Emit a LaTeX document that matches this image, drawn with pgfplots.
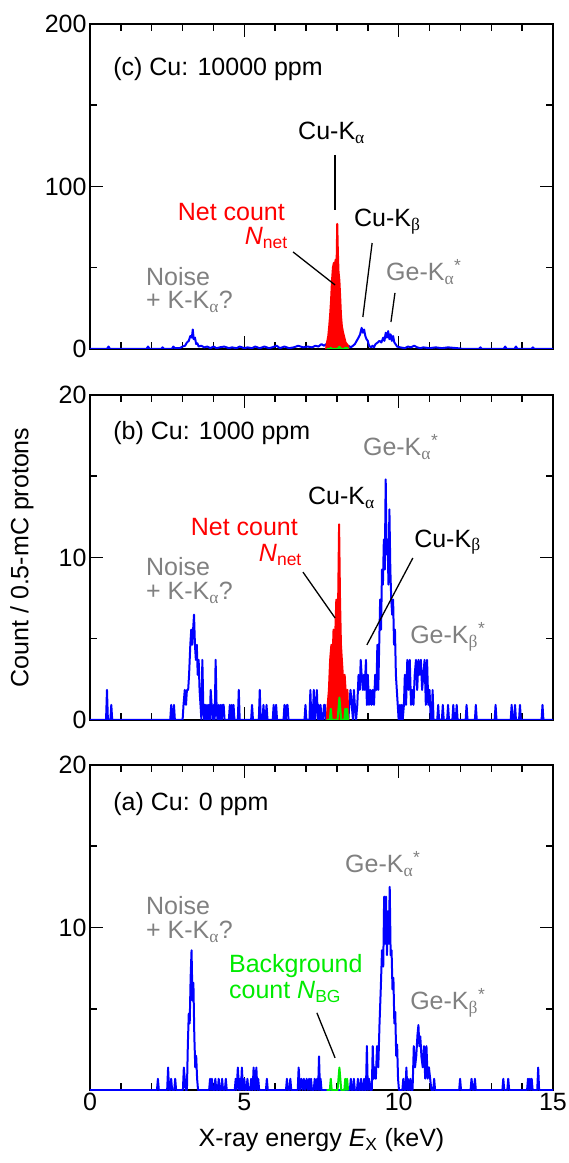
\documentclass[border=0pt]{standalone}
\usepackage{fontspec}
\setmainfont{Liberation Sans}
\newfontfamily\grk{Liberation Serif}
\usepackage{pgfplots}
\pgfplotsset{compat=1.18}
\definecolor{sblue}{RGB}{0,0,255}
\definecolor{sred}{RGB}{255,0,0}
\definecolor{sgreen}{RGB}{0,235,0}
\definecolor{lgray}{RGB}{128,128,128}
\newcommand{\al}{\textsubscript{\grk α}}
\newcommand{\be}{\textsubscript{\grk β}}
\newcommand{\fs}{\fontsize{25}{30}\selectfont}
\tikzset{ann/.style={line width=1.3pt, black}}
\pgfplotsset{spec/.style={width=463pt, height=325pt, scale only axis, anchor=south west,
  xmin=0, xmax=15, ymin=0,
  axis line style={line width=1.5pt},
  tick style={line width=1.5pt, black},
  major tick length=13pt, minor tick length=7pt, tick align=inside,
  xtick={0,5,10,15}, minor x tick num=4, minor y tick num=1,
  ticklabel style={font=\fs},
  /pgf/number format/assume math mode=true,
  label style={font=\fs}},
  bl/.style={color=sblue, line width=2pt, line join=round},
  rd/.style={fill=sred, draw=sred, line width=2pt, line join=round},
  gr/.style={color=sgreen, line width=2pt, line join=round}}

\pgfplotstableread{
x y
7.67 0
7.77 0
7.80 0.69
7.83 0
8.02 0
8.05 0.69
8.08 1.38
8.11 0.69
8.14 0
8.24 0
8.27 0.69
8.30 0
8.33 0.69
8.36 0
8.37 0
}\greendata

\pgfplotstableread{
x y
0 0
0.55 0
0.60 1.5
0.65 0
1.83 0
1.88 1.5
1.93 0
2.30 0
2.35 1
2.40 0
2.65 0
2.70 1.5
2.75 0.5
2.90 0.5
3.00 1.5
3.08 2
3.14 4
3.20 5
3.25 8
3.30 7
3.33 12
3.36 6
3.40 7
3.44 3
3.48 3.5
3.52 1.5
3.60 2
3.70 1
3.80 1.5
3.90 0.5
4.00 1.5
4.10 0.5
4.20 1
4.35 1.5
4.50 0.5
4.60 1
4.75 0.5
4.85 1.5
5.00 0.5
5.10 1
5.25 0.5
5.35 1.5
5.50 0.5
5.65 1.5
5.80 0.5
5.90 1
6.05 2
6.15 0.5
6.30 1.5
6.45 0.5
6.60 1
6.75 2
6.90 1
7.05 1.5
7.20 1
7.30 2
7.40 1.5
7.50 3
7.58 2
7.65 3
7.70 0
8.35 0
8.37 2
8.45 1
8.52 2
8.58 3
8.64 5
8.70 7
8.75 9
8.80 13
8.84 10
8.88 12
8.92 8
8.96 6
9.00 5
9.04 2
9.10 1
9.15 2
9.20 1
9.25 3
9.32 4
9.38 5
9.44 4
9.50 7
9.54 5
9.58 10
9.62 7
9.66 11
9.70 6
9.74 9
9.78 5
9.82 8
9.86 4
9.90 3
9.95 1.5
10.05 1
10.20 0.5
10.30 1.5
10.40 1
10.50 2
10.60 1
10.70 0.5
10.80 1
11.00 0.5
11.20 1
11.40 0.5
11.60 1
11.90 0.5
12.10 0
12.60 0
12.65 1
12.70 0
13.40 0
13.45 1.5
13.50 0
13.75 0
13.80 1.5
13.85 0
14.30 0
14.35 1
14.40 0
15 0
}\bluec

\pgfplotstableread{
x y
7.65 0
7.66 2
7.69 5
7.72 8
7.75 14
7.78 21
7.81 30
7.84 42
7.87 50
7.90 53
7.93 52
7.96 55
7.99 53
8.01 77
8.03 60
8.05 48
8.08 42
8.11 30
8.13 21
8.16 14
8.20 10
8.24 7
8.28 4
8.32 3
8.36 2
8.37 0
}\redc

\pgfplotstableread{
x y
0 0
0.52 0
0.55 1.85
0.58 0
0.66 0
0.69 0.93
0.72 0
2.60 0
2.63 0.93
2.66 0
2.69 0
2.72 0.93
2.75 0
3.00 0
3.03 0.93
3.07 1.85
3.11 0.93
3.14 1.85
3.18 1.85
3.21 2.78
3.25 4.63
3.28 5.56
3.31 4.63
3.34 5.56
3.37 6.48
3.40 4.63
3.43 3.70
3.46 4.63
3.49 2.78
3.52 3.70
3.55 1.85
3.58 0.93
3.61 0
3.64 3.70
3.67 0.93
3.70 0
3.73 0.93
3.76 0
3.79 0.93
3.82 0
3.85 0.93
3.88 0
3.91 1.85
3.94 0.93
3.97 0
4.01 0.93
4.04 0
4.07 3.70
4.10 0.93
4.13 0
4.17 0.93
4.20 0
4.24 0.93
4.27 0
4.30 0.93
4.33 0.93
4.36 0
4.50 0
4.53 0.93
4.56 0
4.59 0.93
4.62 0
4.65 0.93
4.68 0
4.79 0
4.82 1.85
4.85 0
5.22 0
5.25 0.93
5.28 0
5.47 0
5.50 1.85
5.53 0
5.59 0
5.62 0.93
5.65 0
5.69 0
5.72 0.93
5.75 0
5.92 0
5.95 0.93
5.98 0
6.00 0
6.03 0.93
6.06 0
6.27 0
6.30 0.93
6.34 0
6.38 0.93
6.40 0.93
6.43 0
6.95 0
6.98 0.93
7.01 0
7.11 0
7.14 1.85
7.17 0
7.20 0.93
7.22 0
7.25 1.85
7.28 0
7.32 0.93
7.35 1.85
7.38 0
7.40 0.93
7.43 0
7.47 0.93
7.50 0
7.55 0
7.58 0.93
7.61 0.93
7.64 0
8.37 0
8.40 0.93
8.44 1.85
8.48 0.93
8.52 0
8.55 1.85
8.58 0.93
8.62 0
8.66 0.93
8.70 2.78
8.74 1.85
8.77 3.70
8.80 2.78
8.84 1.85
8.87 2.78
8.90 1.85
8.94 3.70
8.97 0.93
9.00 2.78
9.04 0.93
9.08 1.85
9.12 0.93
9.16 1.85
9.20 0.93
9.24 2.78
9.28 1.85
9.31 4.63
9.34 1.85
9.37 4.63
9.40 7.41
9.43 5.56
9.46 9.26
9.49 8.33
9.52 11.11
9.55 9.26
9.58 14.81
9.61 10.19
9.64 11.11
9.67 8.33
9.70 12.96
9.73 9.26
9.76 7.41
9.79 6.48
9.82 7.41
9.85 4.63
9.88 5.56
9.91 2.78
9.94 1.85
9.97 0.93
10.00 0
10.04 0.93
10.07 0
10.10 0.93
10.13 0
10.17 0.93
10.20 2.78
10.24 0.93
10.28 3.70
10.32 1.85
10.36 3.70
10.40 0.93
10.44 1.85
10.48 0.93
10.52 2.78
10.56 3.70
10.60 1.85
10.64 3.70
10.68 2.78
10.72 3.70
10.76 1.85
10.80 2.78
10.84 3.70
10.88 0.93
10.92 3.70
10.96 0.93
11.00 1.85
11.04 0
11.07 0
11.10 1.85
11.13 0
11.25 0
11.28 0.93
11.31 0
11.40 0
11.43 0.93
11.46 0
11.57 0
11.60 0.93
11.63 0
11.74 0
11.77 0.93
11.80 0
11.85 0
11.88 0.93
11.91 0
12.17 0
12.20 0.93
12.23 0
12.47 0
12.50 0.93
12.53 0
13.11 0
13.14 0.93
13.17 0
13.63 0
13.66 0.93
13.69 0
13.74 0
13.77 0.93
13.80 0
13.90 0
13.93 0.93
13.96 0
14.63 0
14.66 0.93
14.69 0
15 0
}\blueb

\pgfplotstableread{
x y
7.67 0
7.70 0.93
7.74 1.85
7.78 3.70
7.82 4.63
7.86 3.70
7.89 5.56
7.92 4.63
7.95 5.56
7.98 7.41
8.01 6.48
8.04 7.41
8.07 12.04
8.10 7.41
8.13 4.63
8.16 3.70
8.19 2.78
8.22 1.85
8.25 2.78
8.28 1.85
8.31 0.93
8.34 1.85
8.37 0
}\redb

\pgfplotstableread{
x y
0 0
2.17 0
2.20 0.69
2.23 0
2.50 0
2.53 1.38
2.56 0
2.60 0
2.63 0.69
2.66 0
2.73 0
2.76 0.69
2.79 0
3.01 0
3.04 1.38
3.07 0.69
3.10 0
3.14 0
3.17 2.8
3.20 4.7
3.23 4.1
3.26 6.9
3.29 8.6
3.32 5.5
3.35 6.6
3.38 3.3
3.41 1.4
3.44 2.1
3.47 0.7
3.50 0
3.86 0
3.89 0.69
3.92 0
3.95 0.69
3.98 0
4.03 0
4.06 0.69
4.09 0
4.14 0
4.17 0.69
4.20 0
4.25 0
4.28 0.69
4.31 0
4.37 0
4.40 0.69
4.43 0
4.69 0
4.72 0.69
4.75 0
4.79 1.38
4.83 0
4.86 0.69
4.89 0
4.92 1.38
4.96 0
5.00 0.69
5.03 0
5.07 0
5.10 0.69
5.13 0
5.19 0
5.22 0.69
5.25 0
5.27 0
5.30 1.38
5.345 0
5.39 1.38
5.42 0
5.45 0.69
5.48 0
5.70 0
5.73 0.69
5.76 0
6.35 0
6.38 0.69
6.41 0
6.46 0
6.49 0.69
6.52 0
6.73 0
6.76 1.38
6.80 0
6.85 0.69
6.89 0
6.93 0.69
6.97 0
7.02 0.69
7.06 0
7.10 0.69
7.13 0
7.16 0.69
7.19 0
7.25 0
7.28 0.69
7.32 0
7.36 0.69
7.39 0
7.42 2.07
7.45 0
7.47 0.69
7.50 0
8.42 0
8.45 0.69
8.48 0
8.52 0
8.55 0.69
8.58 0
8.65 0
8.68 0.69
8.71 0
8.75 0
8.78 0.69
8.81 0
8.85 0
8.88 0.69
8.91 0
8.94 0
8.97 2.7
9.00 0
9.04 0.69
9.08 0
9.13 0
9.16 2.7
9.19 0.69
9.22 1.4
9.26 0.69
9.30 2.7
9.34 1.4
9.38 4.1
9.42 6.2
9.46 8.6
9.50 7.6
9.53 11.9
9.56 9.0
9.59 11.9
9.62 8.3
9.65 11.0
9.68 9.0
9.71 12.5
9.74 8.3
9.77 8.6
9.80 6.2
9.83 6.9
9.86 4.1
9.89 4.8
9.92 2.1
9.95 2.8
9.98 0.7
10.01 0
10.12 0
10.15 0.69
10.18 0
10.22 0
10.25 1.38
10.28 0
10.30 0.69
10.33 0
10.35 0
10.38 0.69
10.41 0
10.45 0
10.49 2.7
10.53 1.4
10.57 2.1
10.61 3.4
10.64 4.0
10.67 2.7
10.70 3.3
10.74 2.0
10.78 1.4
10.82 2.7
10.86 0.7
10.90 2.7
10.94 0.7
10.98 1.4
11.02 0.7
11.06 0
11.12 0
11.15 0.69
11.18 0
11.96 0
11.99 0.69
12.02 0
12.33 0
12.36 0.69
12.40 0
12.44 0
12.47 0.69
12.50 0
13.36 0
13.39 0.69
13.42 0
13.52 0
13.55 0.69
13.58 0
14.16 0
14.19 0.69
14.22 0
14.25 0.69
14.28 0
14.31 0.69
14.34 0
14.49 0
14.52 1.38
14.55 0
15 0
}\bluea

\begin{document}
\begin{tikzpicture}[font=\fs]
\useasboundingbox (-90pt,-73pt) rectangle (479pt,1090pt);

% (c)
\begin{axis}[spec, at={(0pt,741pt)}, ymax=200, ytick={0,100,200}, xticklabel=\empty]
\addplot[bl] table {\bluec};
\addplot[rd] table {\redc} \closedcycle;
\addplot[gr] table {\greendata};
\node[anchor=west, inner sep=0pt] at (axis cs:0.75,172) {(c) Cu: 10000 ppm};
\node[anchor=west, inner sep=0pt] at (axis cs:6.74,133) {Cu-K\al};
\draw[ann] (axis cs:7.94,119.4) -- (axis cs:7.94,85.5);
\node[anchor=east, inner sep=0pt, text=sred] at (axis cs:6.32,84.3) {Net count};
\node[anchor=east, inner sep=0pt, text=sred] at (axis cs:6.41,68.3) {{\itshape N}\textsubscript{net}};
\draw[ann] (axis cs:6.58,59.7) -- (axis cs:7.94,39.4);
\node[anchor=west, inner sep=0pt] at (axis cs:8.55,78.2) {Cu-K\be};
\draw[ann] (axis cs:9.14,65.2) -- (axis cs:8.84,19.7);
\node[anchor=west, inner sep=0pt, text=lgray] at (axis cs:9.59,47.4) {Ge-K\al\textsuperscript{*}};
\draw[ann] (axis cs:9.88,34.5) -- (axis cs:9.75,16.6);
\node[anchor=west, inner sep=0pt, text=lgray] at (axis cs:1.81,44.3) {Noise};
\node[anchor=west, inner sep=0pt, text=lgray] at (axis cs:1.81,28.9) {+ K-K\al?};
\end{axis}

% (b)
\begin{axis}[spec, at={(0pt,370pt)}, ymax=20, ytick={0,10,20}, xticklabel=\empty,
  ylabel={Count / 0.5-mC protons},
  ylabel style={at={(axis description cs:-0.147,0.5)}, anchor=center}]
\addplot[bl] table {\blueb};
\addplot[rd] table {\redb} \closedcycle;
\addplot[gr] table {\greendata};
\node[anchor=west, inner sep=0pt] at (axis cs:0.75,17.66) {(b) Cu: 1000 ppm};
\node[anchor=west, inner sep=0pt, text=lgray] at (axis cs:8.84,16.8) {Ge-K\al\textsuperscript{*}};
\node[anchor=west, inner sep=0pt] at (axis cs:7.06,13.66) {Cu-K\al};
\node[anchor=east, inner sep=0pt, text=sred] at (axis cs:6.74,11.88) {Net count};
\node[anchor=east, inner sep=0pt, text=sred] at (axis cs:6.87,10.15) {{\itshape N}\textsubscript{net}};
\draw[ann] (axis cs:6.9,9.1) -- (axis cs:7.94,6.28);
\node[anchor=west, inner sep=0pt] at (axis cs:10.5,10.95) {Cu-K\be};
\draw[ann] (axis cs:10.46,9.97) -- (axis cs:8.97,4.62);
\node[anchor=west, inner sep=0pt, text=lgray] at (axis cs:1.81,9.42) {Noise};
\node[anchor=west, inner sep=0pt, text=lgray] at (axis cs:1.81,7.82) {+ K-K\al?};
\node[anchor=west, inner sep=0pt, text=lgray] at (axis cs:10.37,5.1) {Ge-K\be\textsuperscript{*}};
\end{axis}

% (a)
\begin{axis}[spec, at={(0pt,0pt)}, ymax=20, ytick={0,10,20}, yticklabels={{},10,20},
  xlabel={X-ray energy {\itshape E}\textsubscript{X} (keV)},
  xlabel style={at={(axis description cs:0.5,-0.155)}, anchor=center}]
\addplot[bl] table {\bluea};
\addplot[gr] table {\greendata};
\node[anchor=west, inner sep=0pt] at (axis cs:0.75,17.59) {(a) Cu: 0 ppm};
\node[anchor=west, inner sep=0pt, text=lgray] at (axis cs:8.26,13.9) {Ge-K\al\textsuperscript{*}};
\node[anchor=west, inner sep=0pt, text=lgray] at (axis cs:1.81,11.36) {Noise};
\node[anchor=west, inner sep=0pt, text=lgray] at (axis cs:1.81,9.75) {+ K-K\al?};
\node[anchor=west, inner sep=0pt, text=sgreen] at (axis cs:4.5,7.65) {Background};
\node[anchor=west, inner sep=0pt, text=sgreen] at (axis cs:4.5,6.05) {count {\itshape N}\textsubscript{BG}};
\draw[ann] (axis cs:7.35,4.75) -- (axis cs:7.94,1.98);
\node[anchor=west, inner sep=0pt, text=lgray] at (axis cs:10.37,5.37) {Ge-K\be\textsuperscript{*}};
\end{axis}
\end{tikzpicture}
\end{document}
